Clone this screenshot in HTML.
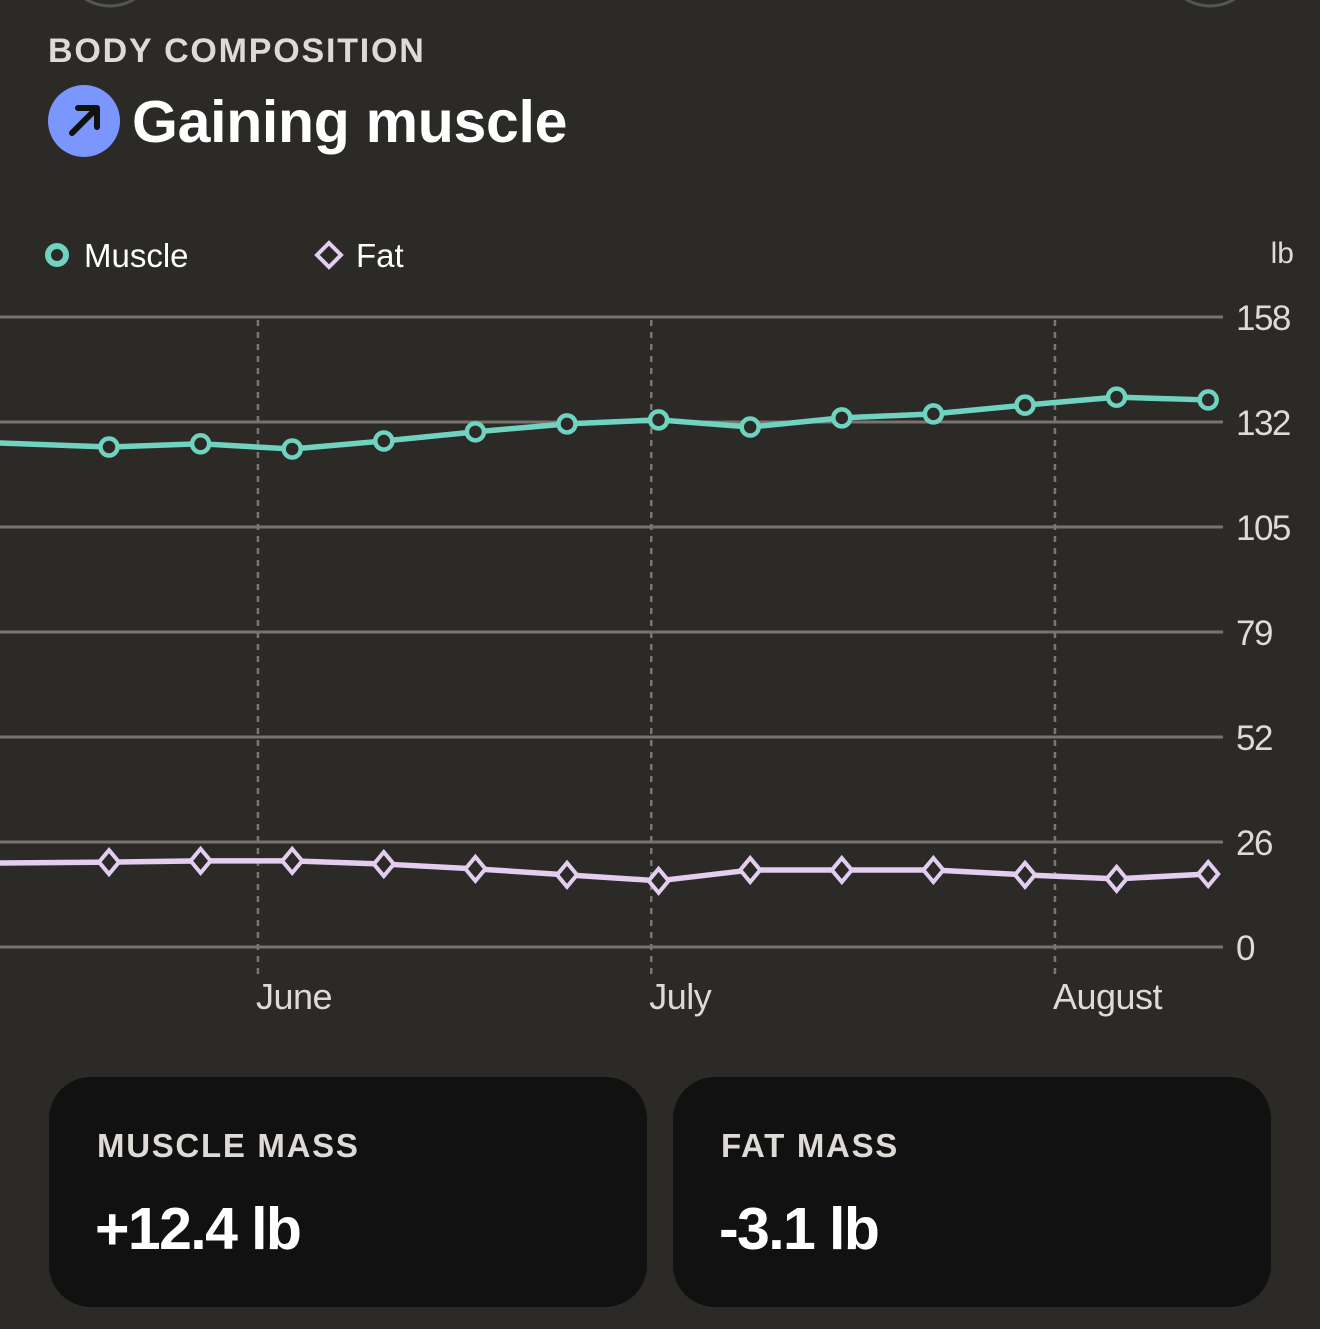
<!DOCTYPE html>
<html><head><meta charset="utf-8"><style>
html,body{margin:0;padding:0;background:#2c2a27;width:1320px;height:1329px;overflow:hidden;font-family:"Liberation Sans",sans-serif}
.abs{position:absolute}
.card{position:absolute;top:1077px;width:598px;height:230px;background:#111111;border-radius:42px}
.card .lbl{position:absolute;left:48px;top:50px;color:#dedad5;font-size:33px;font-weight:bold;letter-spacing:1.7px}
.card .val{position:absolute;left:46px;top:118px;color:#fff;font-size:59px;font-weight:bold;letter-spacing:-1.6px}
</style></head><body>
<svg class="abs" style="left:0;top:0" width="1320" height="20">
<circle cx="110" cy="-40" r="46" fill="none" stroke="#555" stroke-width="3"/>
<circle cx="1210" cy="-40" r="46" fill="none" stroke="#555" stroke-width="3"/>
</svg>
<div class="abs" style="left:48px;top:32px;color:#dedad5;font-size:34px;font-weight:bold;letter-spacing:1.8px">BODY COMPOSITION</div>
<div class="abs" style="left:48px;top:85px;width:72px;height:72px;border-radius:50%;background:#7b97ff">
<svg width="72" height="72"><path d="M24 48 L48 24 M30 23 L49 23 L49 42" stroke="#111" stroke-width="6" fill="none" stroke-linecap="round" stroke-linejoin="round"/></svg></div>
<div class="abs" style="left:132px;top:88px;color:#fff;font-size:59px;font-weight:bold;letter-spacing:-0.3px">Gaining muscle</div>

<svg class="abs" style="left:0;top:0" width="1320" height="1060" id="chart">
<g>
<circle cx="57" cy="255" r="9" fill="none" stroke="#6fd3c0" stroke-width="6"/>
<text x="84" y="267" fill="#fff" font-size="33">Muscle</text>
<path d="M329 243 L341 255 L329 267 L317 255 Z" fill="none" stroke="#e3cdf0" stroke-width="4"/>
<text x="356" y="267" fill="#fff" font-size="33">Fat</text>
</g>
<text x="1294" y="263" text-anchor="end" fill="#dedad5" font-size="30">lb</text>
<g id="grid"></g><g id="months"></g><g id="series"></g>
</svg>

<div class="card" style="left:49px">
<div class="lbl">MUSCLE MASS</div>
<div class="val">+12.4 lb</div></div>
<div class="card" style="left:673px">
<div class="lbl">FAT MASS</div>
<div class="val">-3.1 lb</div></div>

<script>
const yTicks = [0, 26, 52, 79, 105, 132, 158];
const monthLabels = ["June", "July", "August"];
const monthPositions = [2.626, 6.92, 11.327];
const weeks = [0, 1, 2, 3, 4, 5, 6, 7, 8, 9, 10, 11, 12, 13];
const muscle = [127.1, 125.4, 126.2, 124.9, 126.9, 129.2, 131.2, 132.2, 130.4, 132.7, 133.7, 135.9, 137.9, 137.2];
const fat = [20.9, 21.3, 21.6, 21.6, 20.8, 19.6, 18.1, 16.6, 19.3, 19.3, 19.3, 18.1, 17.1, 18.3];

const NS = "http://www.w3.org/2000/svg";
const yMax = 158, y0 = 947, y1 = 317;
function yScale(v){ return y0 - (v / yMax) * (y0 - y1); }
function xScale(w){ return 109 + 91.6 * (w - 1); }
function ptX(i){ return i === 0 ? xScale(-1) : xScale(weeks[i]); }
function mk(tag, attrs, parent){ const e = document.createElementNS(NS, tag); for (const k in attrs) e.setAttribute(k, attrs[k]); parent.appendChild(e); return e; }

const grid = document.getElementById('grid');
yTicks.forEach((t, i) => {
  const y = yScale(i * yMax / 6);
  const l = mk('line', {x1: 0, x2: 1223, y1: y, y2: y, stroke: '#77736e', 'stroke-width': 3}, grid);
  
  
  const tx = mk('text', {x: 1236, y: y + 13, fill: '#dedad5', 'font-size': 35, 'letter-spacing': -1.5}, grid);
  tx.textContent = t;
  
  
});
const months = document.getElementById('months');
monthLabels.forEach((m, i) => {
  const x = xScale(monthPositions[i]);
  const l = mk('line', {x1: x, x2: x, y1: 320, y2: 975, stroke: '#7a7671', 'stroke-width': 2.5, 'stroke-dasharray': '6 6'}, months);
  
  
  const tx = mk('text', {x: x - 2, y: 1009, fill: '#dedad5', 'font-size': 36, 'letter-spacing': -0.5}, months);
  tx.textContent = m;
  
  
});
const series = document.getElementById('series');
function drawLine(vals, color, name){
  const d = vals.map((v, i) => (i ? 'L' : 'M') + ptX(i) + ' ' + yScale(v)).join(' ');
  const p = mk('path', {d: d, fill: 'none', stroke: color, 'stroke-width': 5.5, 'stroke-linejoin': 'round'}, series);
  
  
}
drawLine(muscle, '#6fd3c0', 'muscle');
drawLine(fat, '#e3cdf0', 'fat');
muscle.forEach((v, i) => {
  if (i === 0) return;
  const c = mk('circle', {cx: ptX(i), cy: yScale(v), r: 8.5, fill: '#2c2a27', stroke: '#6fd3c0', 'stroke-width': 4.5}, series);
  
  
});
fat.forEach((v, i) => {
  if (i === 0) return;
  const x = ptX(i), y = yScale(v);
  const p = mk('path', {d: `M${x} ${y-12} L${x+10} ${y} L${x} ${y+12} L${x-10} ${y} Z`, fill: '#2c2a27', stroke: '#e3cdf0', 'stroke-width': 4}, series);
  
  
});
</script>
</body></html>
